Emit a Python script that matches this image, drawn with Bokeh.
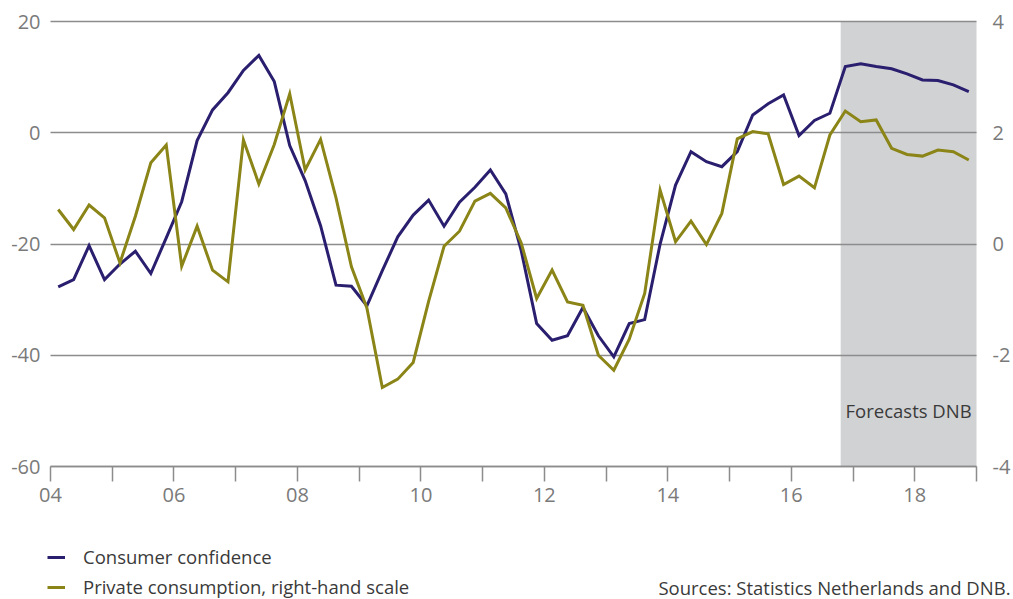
from bokeh.plotting import figure
from bokeh.models import (Range1d, LinearAxis, FixedTicker, Legend, LegendItem,
                          Label, ColumnDataSource)
from bokeh.embed import file_html
from bokeh.resources import INLINE

# Quarterly periods 2004Q1 .. 2018Q4 (plotted at mid-quarter)
periods = [f"{y}Q{q}" for y in range(2004, 2019) for q in range(1, 5)]
period_x = [int(s[:4]) + (int(s[-1]) - 1) * 0.25 + 0.125 for s in periods]

consumer_confidence = [
    -27.7, -26.4, -20.3, -26.4, -23.6, -21.3, -25.3, -18.9,
    -12.4, -1.4, 4.1, 7.2, 11.2, 13.9, 9.2, -2.3,
    -8.6, -16.7, -27.4, -27.6, -31.1, -24.8, -18.7, -14.8,
    -12.1, -16.8, -12.5, -9.8, -6.7, -11.0, -21.2, -34.3,
    -37.3, -36.5, -31.4, -36.5, -40.3, -34.3, -33.6, -20.0,
    -9.4, -3.4, -5.2, -6.1, -3.4, 3.2, 5.2, 6.8,
    -0.5, 2.2, 3.5, 11.9, 12.4, 11.9, 11.5, 10.6,
    9.5, 9.4, 8.6, 7.4,
]

private_consumption = [
    0.62, 0.26, 0.70, 0.47, -0.34, 0.50, 1.46, 1.78,
    -0.40, 0.32, -0.47, -0.68, 1.87, 1.08, 1.79, 2.70,
    1.33, 1.88, 0.83, -0.41, -1.15, -2.58, -2.43, -2.13,
    -1.03, -0.04, 0.23, 0.77, 0.91, 0.65, 0.02, -0.98,
    -0.47, -1.04, -1.10, -2.00, -2.27, -1.71, -0.89, 0.97,
    0.04, 0.41, -0.01, 0.55, 1.89, 2.02, 1.98, 1.07,
    1.22, 1.01, 1.96, 2.39, 2.20, 2.23, 1.72, 1.61,
    1.58, 1.69, 1.66, 1.51,
]

forecast_start = [2016.8]
forecast_end = [2019.0]

left_ticks = [-60, -40, -20, 0, 20]
right_ticks = [-4, -2, 0, 2, 4]
year_ticks = list(range(2004, 2020))
year_labels = {y: (f"{y % 100:02d}" if y % 2 == 0 else "") for y in year_ticks}

BLUE = "#2a1f6f"
OLIVE = "#8b8518"
SHADE = "#d1d2d4"
GRID = "#8c8c8c"
TICKTXT = "#7a7a7a"
DARK = "#3a3a3a"
FONT = "Open Sans"
TICK_SIZE = "20px"
TEXT_SIZE = "18.5px"

# ---- layout geometry (pixels) ----
W, H = 1013, 599
PLOT_L, PLOT_R, PLOT_T, PLOT_B = 50, 976, 21, 466      # chart area
X0, X1 = year_ticks[0], year_ticks[-1]
Y0, Y1 = left_ticks[0], left_ticks[-1]
R0, R1 = right_ticks[0], right_ticks[-1]
px_per_year = (PLOT_R - PLOT_L) / (X1 - X0)
px_per_unit = (PLOT_B - PLOT_T) / (Y1 - Y0)
px_per_runit = (PLOT_B - PLOT_T) / (R1 - R0)
# The frame covers the whole page so that the legend and the source note
# (drawn inside it) are not clipped; the axes are pinned with fixed_location.
x_start = X0 - PLOT_L / px_per_year
x_end = X1 + (W - PLOT_R) / px_per_year
y_bottom = Y0 - (H - PLOT_B) / px_per_unit
y_top = Y1 + PLOT_T / px_per_unit
r_bottom = R0 - (H - PLOT_B) / px_per_runit
r_top = R1 + PLOT_T / px_per_runit


def data_x(px):
    return X0 + (px - PLOT_L) / px_per_year


def data_y(py):
    return Y0 - (py - PLOT_B) / px_per_unit


p = figure(width=W, height=H, output_backend="svg", toolbar_location=None,
           x_range=Range1d(x_start, x_end), y_range=Range1d(y_bottom, y_top),
           min_border=0, min_border_left=0, min_border_right=0,
           min_border_top=0, min_border_bottom=0)
p.extra_y_ranges = {"right": Range1d(r_bottom, r_top)}
p.outline_line_color = None
p.background_fill_color = "white"
p.border_fill_color = "white"

# forecast shading
p.quad(left=forecast_start, right=forecast_end, bottom=[Y0], top=[Y1],
       fill_color=SHADE, line_color=None, level="image")

# horizontal grid lines limited to the chart area
p.xgrid.grid_line_color = None
if "cross_bounds" in p.ygrid.properties():
    p.ygrid.ticker = FixedTicker(ticks=left_ticks)
    p.ygrid.cross_bounds = (X0, X1)
    p.ygrid.grid_line_color = GRID
    p.ygrid.grid_line_width = 1.5
else:
    p.ygrid.grid_line_color = None
    p.segment(x0=[X0] * len(left_ticks), x1=[X1] * len(left_ticks),
              y0=left_ticks, y1=left_ticks, line_color=GRID, line_width=1.5,
              level="underlay")

src = ColumnDataSource(dict(x=period_x, cc=consumer_confidence, pc=private_consumption))
r_cc = p.line("x", "cc", source=src, line_color=BLUE, line_width=3, line_join="miter")
r_pc = p.line("x", "pc", source=src, line_color=OLIVE, line_width=3,
              line_join="miter", y_range_name="right")

# x axis, pinned at -60
xa = p.xaxis[0]
xa.fixed_location = Y0
xa.bounds = (X0, X1)
xa.ticker = FixedTicker(ticks=year_ticks)
xa.major_label_overrides = year_labels
xa.axis_line_color = GRID
xa.axis_line_width = 1.5
xa.major_tick_line_color = GRID
xa.major_tick_line_width = 1.5
xa.major_tick_in = 0
xa.major_tick_out = 15
xa.minor_tick_line_color = None
xa.minor_tick_in = 0
xa.minor_tick_out = 0
xa.major_label_text_color = TICKTXT
xa.major_label_text_font = FONT
xa.major_label_text_font_size = TICK_SIZE
xa.major_label_standoff = 6


def style_y(ax, ticks, standoff):
    ax.ticker = FixedTicker(ticks=ticks)
    ax.major_label_overrides = {t: str(t) for t in ticks}   # plain hyphen minus
    ax.axis_line_color = None
    ax.major_tick_line_color = None
    ax.minor_tick_line_color = None
    ax.major_tick_in = 0
    ax.major_tick_out = 0
    ax.minor_tick_in = 0
    ax.minor_tick_out = 0
    ax.major_label_text_color = TICKTXT
    ax.major_label_text_font = FONT
    ax.major_label_text_font_size = TICK_SIZE
    ax.major_label_standoff = standoff


ya = p.yaxis[0]
style_y(ya, left_ticks, 10)
ya.fixed_location = X0
ya.bounds = (Y0, Y1)
ra = LinearAxis(y_range_name="right", fixed_location=X1, bounds=(R0, R1))
style_y(ra, right_ticks, 16)
p.add_layout(ra, "right")

# forecast label
p.add_layout(Label(x=(forecast_start[0] + forecast_end[0]) / 2, y=-50,
                   text="Forecasts DNB", text_align="center", text_baseline="middle",
                   text_color=DARK, text_font=FONT, text_font_size=TEXT_SIZE))

# legend (inside the frame, under the axis)
legend = Legend(items=[LegendItem(label="Consumer confidence", renderers=[r_cc]),
                       LegendItem(label="Private consumption, right-hand scale", renderers=[r_pc])],
                location=(47, 0), orientation="vertical",
                glyph_width=18, glyph_height=24, label_height=24, spacing=5,
                label_standoff=18, padding=0, margin=0,
                border_line_color=None, background_fill_alpha=0,
                label_text_font=FONT, label_text_font_size=TEXT_SIZE,
                label_text_color=DARK)
p.add_layout(legend, "center")

# sources note
p.add_layout(Label(x=data_x(1010), y=data_y(587),
                   text="Sources: Statistics Netherlands and DNB.",
                   text_align="right", text_baseline="middle",
                   text_color=DARK, text_font=FONT, text_font_size=TEXT_SIZE))

open("out.html", "w").write(file_html(p, INLINE))
